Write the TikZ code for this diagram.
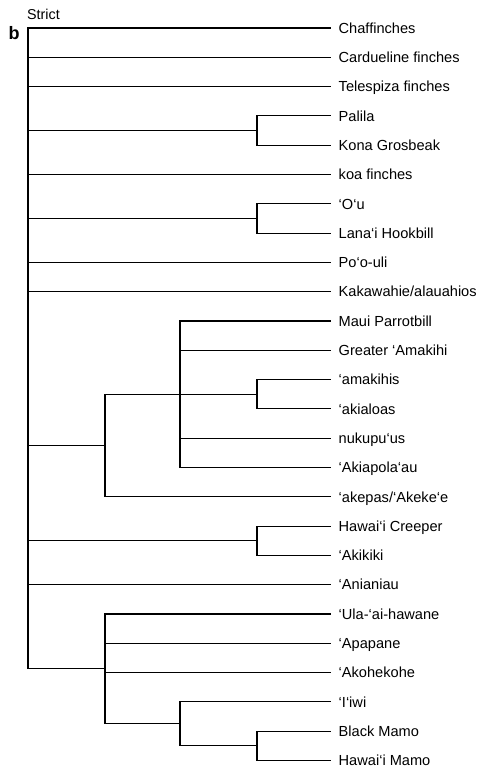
\documentclass[tikz,border=0pt]{standalone}
\usepackage{fontspec}
\setmainfont{Liberation Sans}
\begin{document}
\begin{tikzpicture}[x=1pt,y=-1pt,
  branch/.style={draw=black,line width=1.1pt,line join=miter},
  leaf/.style={anchor=west,inner xsep=7.5pt,inner ysep=0pt,text height=10.5pt,text depth=0pt,
    font=\fontsize{14.6}{16}\selectfont},
  title/.style={anchor=west,inner sep=0pt,font=\fontsize{14.3}{16}\selectfont}]
\useasboundingbox (0,0) rectangle (488,771);
% title
\node[title] (strict) at (27,14) {Strict};
\node[anchor=center,inner sep=0pt,font=\fontsize{18}{19}\bfseries] (b) at (14,33) {b};
% leaves
\node[leaf] (l0)  at (331,28)    {Chaffinches};
\node[leaf] (l1)  at (331,57.3)  {Cardueline finches};
\node[leaf] (l2)  at (331,86.6)  {Telespiza finches};
\node[leaf] (l3)  at (331,115.9) {Palila};
\node[leaf] (l4)  at (331,145.2) {Kona Grosbeak};
\node[leaf] (l5)  at (331,174.5) {koa finches};
\node[leaf] (l6)  at (331,203.8) {‘O‘u};
\node[leaf] (l7)  at (331,233.1) {Lana‘i Hookbill};
\node[leaf] (l8)  at (331,262.4) {Po‘o-uli};
\node[leaf] (l9)  at (331,291.7) {Kakawahie/alauahios};
\node[leaf] (l10) at (331,321)   {Maui Parrotbill};
\node[leaf] (l11) at (331,350.3) {Greater ‘Amakihi};
\node[leaf] (l12) at (331,379.6) {‘amakihis};
\node[leaf] (l13) at (331,408.9) {‘akialoas};
\node[leaf] (l14) at (331,438.2) {nukupu‘us};
\node[leaf] (l15) at (331,467.5) {‘Akiapola‘au};
\node[leaf] (l16) at (331,496.8) {‘akepas/‘Akeke‘e};
\node[leaf] (l17) at (331,526.1) {Hawai‘i Creeper};
\node[leaf] (l18) at (331,555.4) {‘Akikiki};
\node[leaf] (l19) at (331,584.7) {‘Anianiau};
\node[leaf] (l20) at (331,614)   {‘Ula-‘ai-hawane};
\node[leaf] (l21) at (331,643.3) {‘Apapane};
\node[leaf] (l22) at (331,672.6) {‘Akohekohe};
\node[leaf] (l23) at (331,701.9) {‘I‘iwi};
\node[leaf] (l24) at (331,731.2) {Black Mamo};
\node[leaf] (l25) at (331,760.5) {Hawai‘i Mamo};
% internal nodes
\coordinate (pk)   at (257,130.55);
\coordinate (ol)   at (257,218.45);
\coordinate (aa)   at (257,394.25);
\coordinate (hc)   at (257,540.75);
\coordinate (mm)   at (257,745.85);
\coordinate (A1)   at (180,394.25);
\coordinate (B1)   at (180,723.875);
\coordinate (A)    at (105,445.525);
\coordinate (B)    at (105,668.94);
\coordinate (root) at (28,348.47);
% root
\foreach \c in {l0,l1,l2,l5,l8,l9,l19}{\draw[branch] (root) |- (\c.west);}
\foreach \c in {pk,ol,A,hc,B}{\draw[branch] (root) |- (\c);}
% pairs
\foreach \p/\a/\b in {pk/l3/l4, ol/l6/l7, aa/l12/l13, hc/l17/l18, mm/l24/l25}{
  \draw[branch] (\p) |- (\a.west);
  \draw[branch] (\p) |- (\b.west);}
% clade A
\draw[branch] (A) |- (A1);
\draw[branch] (A) |- (l16.west);
\foreach \c in {l10,l11,l14,l15}{\draw[branch] (A1) |- (\c.west);}
\draw[branch] (A1) |- (aa);
% clade B
\foreach \c in {l20,l21,l22}{\draw[branch] (B) |- (\c.west);}
\draw[branch] (B) |- (B1);
\draw[branch] (B1) |- (l23.west);
\draw[branch] (B1) |- (mm);
\end{tikzpicture}
\end{document}
